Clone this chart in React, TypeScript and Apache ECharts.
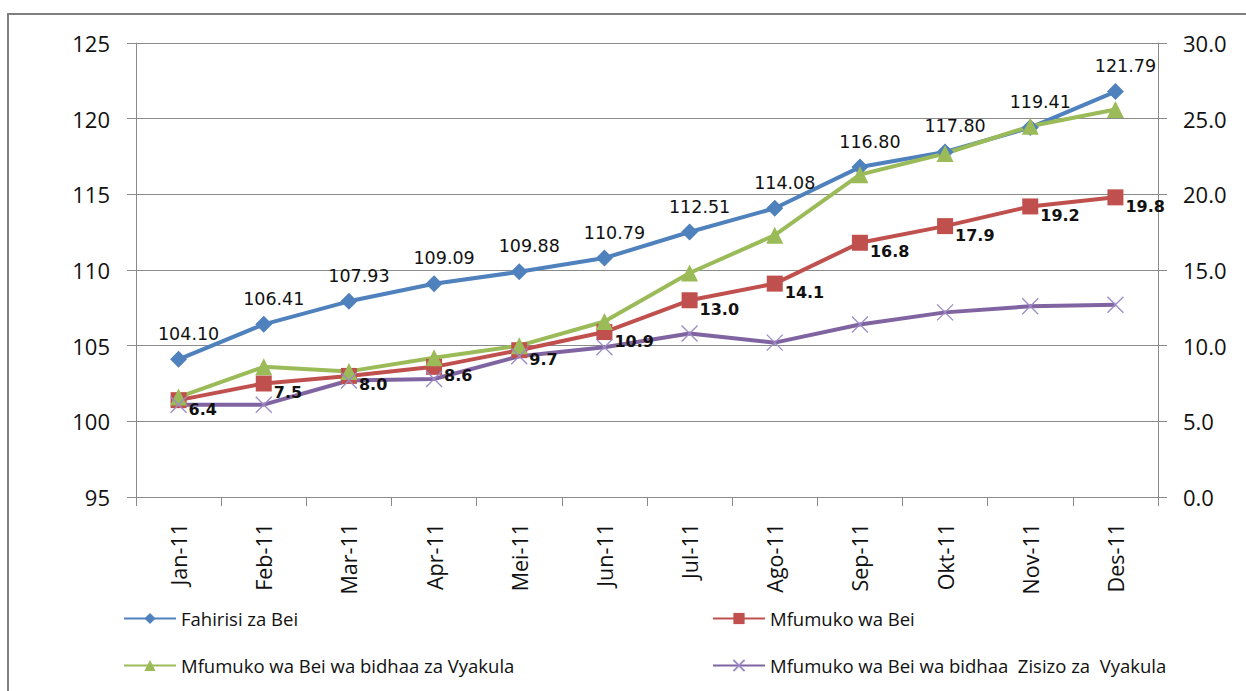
import React, { useEffect, useRef } from "react";
import * as echarts from "echarts";

const categories = ["Jan-11", "Feb-11", "Mar-11", "Apr-11", "Mei-11", "Jun-11", "Jul-11", "Ago-11", "Sep-11", "Okt-11", "Nov-11", "Des-11"];
const priceIndex = [104.1, 106.41, 107.93, 109.09, 109.88, 110.79, 112.51, 114.08, 116.8, 117.8, 119.41, 121.79];
const inflation = [6.4, 7.5, 8.0, 8.6, 9.7, 10.9, 13.0, 14.1, 16.8, 17.9, 19.2, 19.8];
const foodInflation = [6.6, 8.6, 8.3, 9.2, 10.0, 11.6, 14.8, 17.3, 21.3, 22.7, 24.5, 25.6];
const nonFoodInflation = [6.1, 6.1, 7.7, 7.8, 9.3, 9.9, 10.8, 10.2, 11.4, 12.2, 12.6, 12.7];
const seriesNames = [
  "Fahirisi za Bei",
  "Mfumuko wa Bei",
  "Mfumuko wa Bei wa bidhaa za Vyakula",
  "Mfumuko wa Bei wa bidhaa  Zisizo za  Vyakula",
];
const leftAxis = { min: 95, max: 125, interval: 5 };
const rightAxis = { min: 0, max: 30, interval: 5 };

const BLUE = "#4F81BD";
const RED = "#C0504D";
const GREEN = "#9BBB59";
const PURPLE = "#8064A2";
const GRID = "#8a8a8a";
const AXIS_FONT = "Open Sans";

export default function App() {
  const ref = useRef<HTMLDivElement>(null);
  useEffect(() => {
    if (!ref.current) return;
    const chart = echarts.init(ref.current, null, { renderer: "svg" });
    const legendText = { fontFamily: AXIS_FONT, fontSize: 18.5, color: "#111" };
    const legendBase = {
      itemWidth: 52,
      itemHeight: 14,
      itemGap: 0,
      padding: 0,
      textStyle: legendText,
      selectedMode: false,
    };
    chart.setOption({
      animation: false,
      backgroundColor: "#ffffff",
      graphic: [
        {
          type: "rect",
          shape: { x: 8, y: 14, width: 1300, height: 720 },
          style: { fill: "none", stroke: "#7f7f7f", lineWidth: 2 },
          silent: true,
        },
      ],
      grid: { left: 136, right: 88, top: 43, bottom: 194 },
      legend: [
        { ...legendBase, data: [seriesNames[0]], left: 123, top: 609 },
        { ...legendBase, data: [seriesNames[1]], left: 712, top: 609 },
        { ...legendBase, data: [seriesNames[2]], left: 123, top: 656 },
        { ...legendBase, data: [seriesNames[3]], left: 712, top: 656 },
      ],
      xAxis: {
        type: "category",
        data: categories,
        boundaryGap: true,
        axisLine: { lineStyle: { color: GRID, width: 1 } },
        axisTick: { show: true, length: 9, lineStyle: { color: GRID } },
        axisLabel: {
          rotate: 90,
          margin: 26,
          fontFamily: AXIS_FONT,
          fontSize: 21.5,
          color: "#111",
        },
      },
      yAxis: [
        {
          type: "value",
          min: leftAxis.min,
          max: leftAxis.max,
          interval: leftAxis.interval,
          position: "left",
          axisLine: { show: true, lineStyle: { color: GRID } },
          axisTick: { show: true, length: 9, inside: false, lineStyle: { color: GRID } },
          splitLine: { show: true, lineStyle: { color: GRID, width: 1 } },
          axisLabel: { margin: 26, fontFamily: AXIS_FONT, fontSize: 22, color: "#111" },
        },
        {
          type: "value",
          min: rightAxis.min,
          max: rightAxis.max,
          interval: rightAxis.interval,
          position: "right",
          axisLine: { show: true, lineStyle: { color: GRID } },
          axisTick: { show: true, length: 9, lineStyle: { color: GRID } },
          splitLine: { show: false },
          axisLabel: {
            margin: 25,
            fontFamily: AXIS_FONT,
            fontSize: 22,
            color: "#111",
            formatter: (v: number) => v.toFixed(1),
          },
        },
      ],
      series: [
        {
          name: seriesNames[0],
          type: "line",
          yAxisIndex: 0,
          data: priceIndex,
          symbol: "diamond",
          symbolSize: 17,
          lineStyle: { color: BLUE, width: 4 },
          itemStyle: { color: BLUE },
          label: {
            show: true,
            position: "top",
            distance: 8,
            offset: [10, 0],
            fontFamily: "DejaVu Sans",
            fontSize: 17.5,
            color: "#111",
            formatter: (p: any) => Number(p.value).toFixed(2),
          },
        },
        {
          name: seriesNames[1],
          type: "line",
          yAxisIndex: 1,
          data: inflation,
          symbol: "rect",
          symbolSize: 16,
          lineStyle: { color: RED, width: 4 },
          itemStyle: { color: RED },
          label: {
            show: true,
            position: "right",
            distance: 2,
            offset: [0, 9],
            fontFamily: "DejaVu Sans",
            fontWeight: "bold",
            fontSize: 16,
            color: "#111",
            formatter: (p: any) => Number(p.value).toFixed(1),
          },
        },
        {
          name: seriesNames[2],
          type: "line",
          yAxisIndex: 1,
          data: foodInflation,
          symbol: "triangle",
          symbolSize: 17,
          lineStyle: { color: GREEN, width: 4 },
          itemStyle: { color: GREEN },
        },
        {
          name: seriesNames[3],
          type: "line",
          yAxisIndex: 1,
          data: nonFoodInflation,
          symbol: "path://M0,0L16,16M16,0L0,16",
          symbolSize: 16,
          lineStyle: { color: PURPLE, width: 4 },
          itemStyle: { color: "none", borderColor: "#9d8bc6", borderWidth: 1.3 },
        },
      ],
    });
    return () => chart.dispose();
  }, []);
  return (
    <div
      ref={ref}
      style={{ position: "fixed", left: 0, top: 0, width: 1246, height: 691, background: "#fff" }}
    />
  );
}
